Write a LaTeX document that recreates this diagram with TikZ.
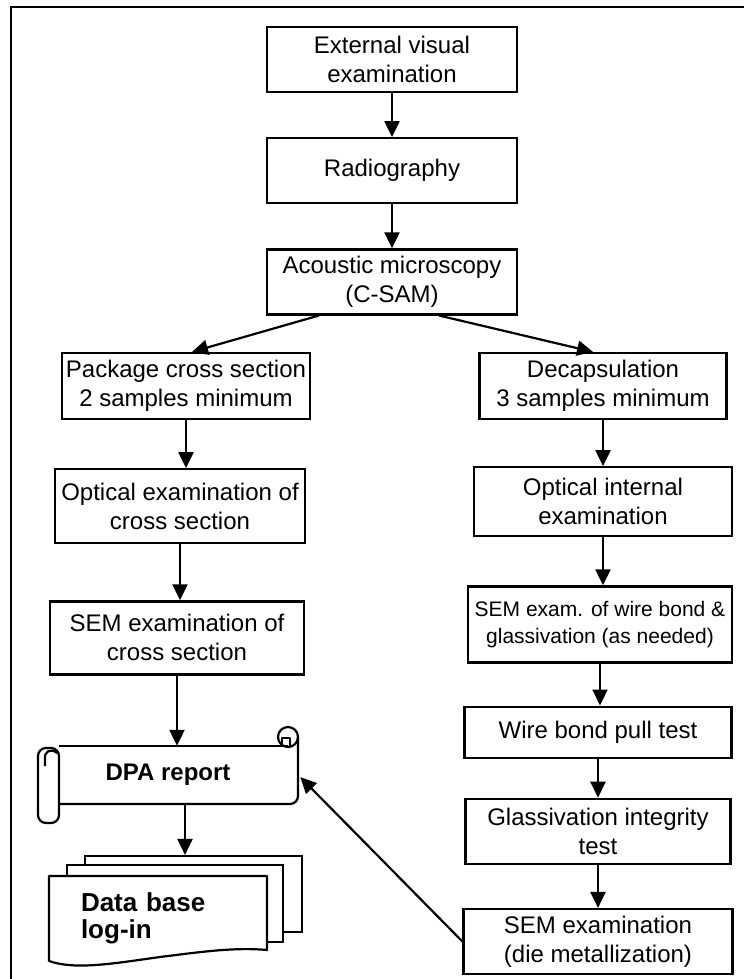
\documentclass[tikz,border=0pt]{standalone}
\usepackage{fontspec}
\setmainfont{Liberation Sans}
\usetikzlibrary{arrows.meta,positioning,calc}

\begin{document}
\begin{tikzpicture}[
    x=1pt, y=-1pt,
    node distance=44pt,
    box/.style={rectangle, draw, line width=2.2pt, minimum width=250pt, minimum height=65pt, align=center, inner sep=2pt, font=\fontsize{24}{29}\selectfont},
    page/.style={rectangle, draw, line width=2.2pt, fill=white, inner sep=0pt},
    scrolltext/.style={minimum width=260pt, minimum height=58pt, inner sep=0pt, font=\bfseries\fontsize{24}{29}\selectfont},
    dbtext/.style={minimum width=218pt, minimum height=84pt, inner sep=0pt, text width=154pt, align=left, font=\bfseries\fontsize{26}{27}\selectfont},
    outline/.style={line width=2.2pt, line join=round},
    arrow/.style={-{Triangle[length=16pt,width=15pt]}, line width=2.2pt}
]
\useasboundingbox (0,0) rectangle (744,979);

% Frame
\draw[line width=2.5pt] (11,979) -- (11,7) -- (744,7);

% Common steps
\node[box] (ext) at (392,59.5) {External visual\\examination};
\node[box, below=of ext] (radio) {Radiography};
\node[box, below=of radio] (acou) {Acoustic microscopy\\(C-SAM)};

% Package branch
\node[box, minimum width=248pt, minimum height=66pt] (pkg) at (186,386) {Package cross section\\2 samples minimum};
\node[box, minimum height=74pt, below=48pt of pkg, xshift=-6pt] (opt) {Optical examination of\\cross section};
\node[box, minimum width=254pt, minimum height=73pt, below=56pt of opt, xshift=-3pt] (semx) {SEM examination of\\cross section};

% Decapsulation branch
\node[box, minimum width=247pt, minimum height=66pt] (decap) at (603,386) {Decapsulation\\3 samples minimum};
\node[box, minimum width=258pt, minimum height=69pt, below=46pt of decap] (optin) {Optical internal\\examination};
\node[box, minimum width=264pt, minimum height=76pt, below=48pt of optin, xshift=-3pt, font=\fontsize{21}{27}\selectfont] (semw) {SEM exam. of wire bond \&\\glassivation (as needed)};
\node[box, minimum width=267pt, minimum height=51pt, below=42pt of semw, xshift=-2pt] (wire) {Wire bond pull test};
\node[box, minimum width=265pt, minimum height=65pt, below=39pt of wire] (glass) {Glassivation integrity\\test};
\node[box, minimum width=269pt, minimum height=65pt, below=43pt of glass] (semd) {SEM examination\\(die metallization)};

% DPA report scroll
\node[scrolltext] (dpa) at (168,775) {DPA report};
\draw[outline] (59,746) -- (288,746);
\draw[outline] (288,737) circle (10pt);
\draw[outline, rounded corners=8pt] (298,737) -- (298,804) -- (59,804);
\draw[outline] (282,746) -- (282,738) -- (290,738) -- (290,746);
\draw[outline, rounded corners=8pt] (38,748) rectangle (59,823);
\draw[outline] (57,753) .. controls (51,748) and (44,751) .. (45,759) -- (45,766);

% Data base pages
\node[page, minimum width=217pt, minimum height=76pt] (db3) at (193.5,894) {};
\node[page, minimum width=216pt, minimum height=77pt] (db2) at (175,903.5) {};
\draw[outline, fill=white] (49,876) -- (267,876) -- (267,950) .. controls (235,947) and (200,952) .. (160,957) .. controls (110,964) and (75,970) .. (49,961) -- cycle;
\node[dbtext] (db) at (158,918) {Data base\\log-in};

% Arrows
\draw[arrow] (ext) -- (radio);
\draw[arrow] (radio) -- (acou);
\draw[arrow] ([xshift=-73pt]acou.south) -- ([xshift=6pt]pkg.north);
\draw[arrow] ([xshift=47pt]acou.south) -- ([xshift=-10pt]decap.north);
\draw[arrow] (pkg.south) -- (pkg.south |- opt.north);
\draw[arrow] (opt.south) -- (opt.south |- semx.north);
\draw[arrow] (semx.south) -- (semx.south |- dpa.north);
\draw[arrow] ([xshift=17pt]dpa.south) -- ([xshift=17pt]dpa.south |- db3.north);
\draw[arrow] (decap.south) -- (decap.south |- optin.north);
\draw[arrow] (optin.south) -- (optin.south |- semw.north);
\draw[arrow] (semw.south) -- (semw.south |- wire.north);
\draw[arrow] (wire.south) -- (wire.south |- glass.north);
\draw[arrow] (glass.south) -- (glass.south |- semd.north);
\draw[arrow, shorten >=3pt] (semd.west) -- (dpa.east);

\end{tikzpicture}
\end{document}
